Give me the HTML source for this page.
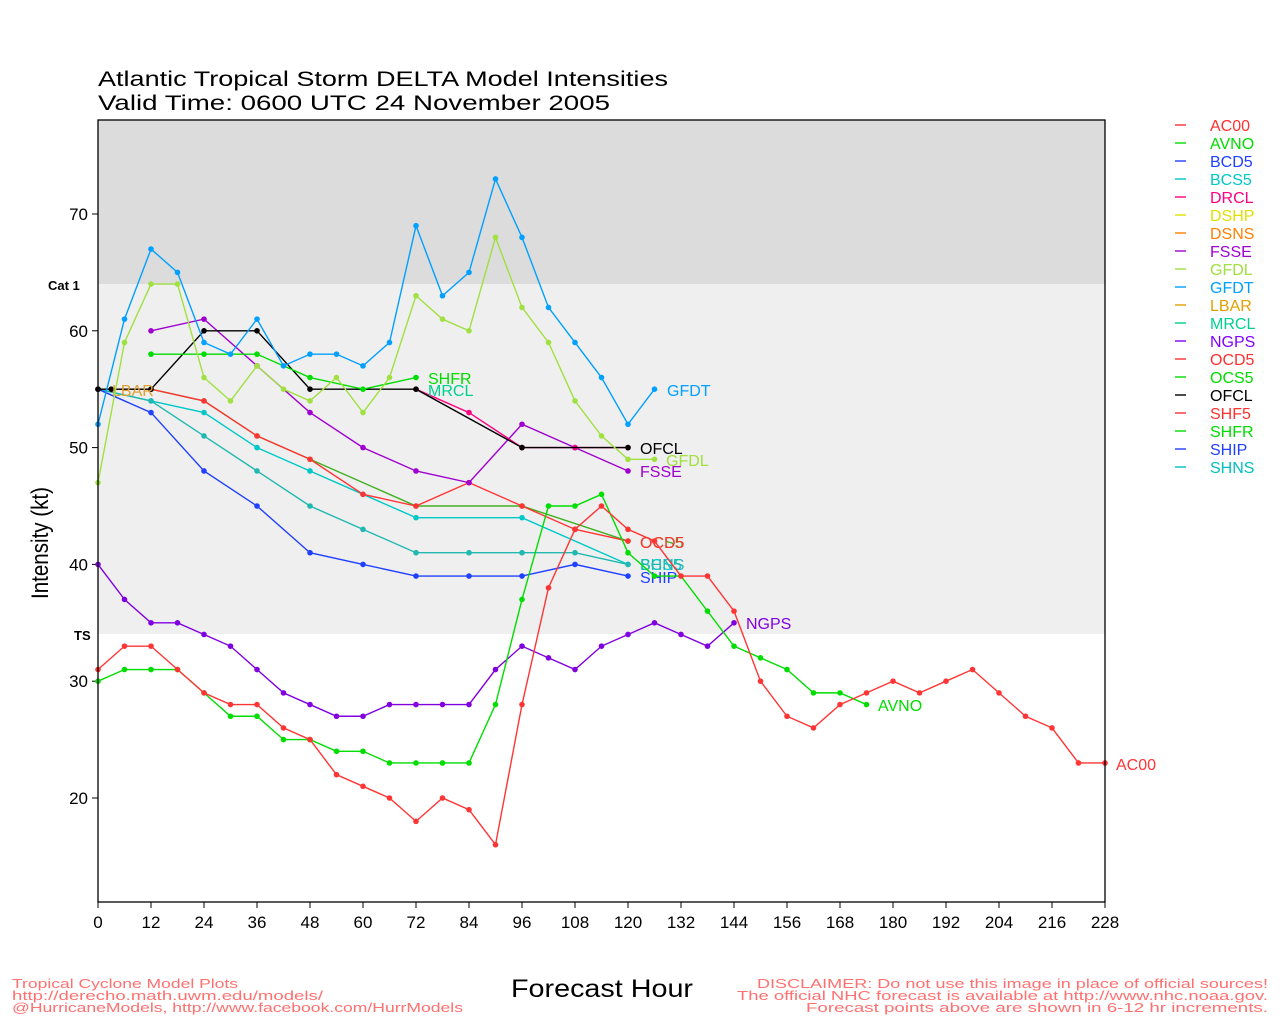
<!DOCTYPE html>
<html><head><meta charset="utf-8"><style>
html,body{margin:0;padding:0;background:#fff;}
svg{display:block;font-family:"Liberation Sans",sans-serif;}
</style></head><body>
<svg id="c" width="1280" height="1024" viewBox="0 0 1280 1024" xmlns="http://www.w3.org/2000/svg">
<rect x="98" y="120" width="1007" height="164" fill="#dcdcdc"/>
<rect x="98" y="284" width="1007" height="350" fill="#efefef"/>
<text x="98" y="86" font-size="21" fill="#000" textLength="570" lengthAdjust="spacingAndGlyphs">Atlantic Tropical Storm DELTA Model Intensities</text>
<text x="98" y="110" font-size="21" fill="#000" textLength="512" lengthAdjust="spacingAndGlyphs">Valid Time: 0600 UTC 24 November 2005</text>
<text x="48" y="290" font-size="13" font-weight="bold">Cat 1</text>
<text x="74" y="640" font-size="13" font-weight="bold">TS</text>
<text transform="translate(48,599) rotate(-90)" font-size="24" textLength="112" lengthAdjust="spacingAndGlyphs">Intensity (kt)</text>
<text x="511" y="997" font-size="25" textLength="182" lengthAdjust="spacingAndGlyphs">Forecast Hour</text>
<g font-size="13" fill="#ff7070">
<text x="12" y="988" textLength="226" lengthAdjust="spacingAndGlyphs">Tropical Cyclone Model Plots</text>
<text x="12" y="1000" textLength="311" lengthAdjust="spacingAndGlyphs">http://derecho.math.uwm.edu/models/</text>
<text x="12" y="1012" textLength="451" lengthAdjust="spacingAndGlyphs">@HurricaneModels, http://www.facebook.com/HurrModels</text>
<text x="757" y="988" textLength="511" lengthAdjust="spacingAndGlyphs">DISCLAIMER: Do not use this image in place of official sources!</text>
<text x="737" y="1000" textLength="531" lengthAdjust="spacingAndGlyphs">The official NHC forecast is available at http://www.nhc.noaa.gov.</text>
<text x="806" y="1012" textLength="462" lengthAdjust="spacingAndGlyphs">Forecast points above are shown in 6-12 hr increments.</text>
</g>
<g id="g"></g>
<rect x="98" y="120" width="1007" height="782" fill="none" stroke="#000" stroke-width="1.3"/>
</svg>
<script>
var g=document.getElementById('g'),NS='http://www.w3.org/2000/svg';
function X(h){return 98+h*1007/228}function Y(v){return 214+(70-v)*11.68}
function el(t,a,txt){var e=document.createElementNS(NS,t);for(var k in a)e.setAttribute(k,a[k]);if(txt)e.textContent=txt;g.appendChild(e);return e;}
for(var h=0;h<=228;h+=12){el('line',{x1:X(h),x2:X(h),y1:902,y2:908,stroke:'#000'});el('text',{x:X(h),y:928,'text-anchor':'middle','font-size':17},''+h);}
[20,30,40,50,60,70].forEach(function(v){el('line',{x1:92,x2:98,y1:Y(v),y2:Y(v),stroke:'#000'});el('text',{x:88,y:Y(v)+6,'text-anchor':'end','font-size':17},''+v);});
function S(c,pts,lab,lx,ly){var p=[];for(var i=0;i<pts.length;i+=2)p.push(X(pts[i])+','+Y(pts[i+1]));
el('polyline',{points:p.join(' '),fill:'none',stroke:c,'stroke-width':1.4});
for(var i=0;i<pts.length;i+=2)el('circle',{cx:X(pts[i]),cy:Y(pts[i+1]),r:2.8,fill:c});
if(lab)el('text',{x:lx,y:ly,'font-size':16,fill:c},lab);}
var red='#ff3535',grn='#00dd00';
S('#00c8c8',[0,55,12,54,24,53,36,50,48,48,60,46,72,44,96,44,120,40],'BCS5',640,570);
S('#20b8b0',[0,55,12,54,24,51,36,48,48,45,60,43,72,41,84,41,96,41,108,41,120,40],'SHNS',640,570);
S('#2040ff',[0,55,12,53,24,48,36,45,48,41,60,40,72,39,84,39,96,39,108,40,120,39],'SHIP',640,583);
S('#40b020',[0,55,12,55,24,54,36,51,48,49,72,45,96,45,120,42],'OCS5',640,548);
S(red,[0,55,12,55,24,54,36,51,48,49,60,46,72,45,84,47,96,45,108,43,120,42],'OCD5',640,548);
S('#a000d0',[12,60,24,61,36,57,48,53,60,50,72,48,84,47,96,52,108,50,120,48],'FSSE',640,477);
S('#ff0080',[72,55,84,53,96,50,108,50,120,50],null);
S('#000',[0,55,3,55,12,55,24,60,36,60,48,55,72,55,96,50,120,50],'OFCL',640,454);
S(grn,[12,58,24,58,36,58,48,56,60,55,72,56],'SHFR',428,384);
el('text',{x:428,y:396,'font-size':16,fill:'#00d090'},'MRCL');
el('text',{x:112,y:396,'font-size':16,fill:'#e0a030'},'LBAR');
S('#a0e040',[0,47,6,59,12,64,18,64,24,56,30,54,36,57,42,55,48,54,54,56,60,53,66,56,72,63,78,61,84,60,90,68,96,62,102,59,108,54,114,51,120,49,126,49],'GFDL',666,466);
S('#00a0ff',[0,52,6,61,12,67,18,65,24,59,30,58,36,61,42,57,48,58,54,58,60,57,66,59,72,69,78,63,84,65,90,73,96,68,102,62,108,59,114,56,120,52,126,55],'GFDT',667,396);
S('#8000e0',[0,40,6,37,12,35,18,35,24,34,30,33,36,31,42,29,48,28,54,27,60,27,66,28,72,28,78,28,84,28,90,31,96,33,102,32,108,31,114,33,120,34,126,35,132,34,138,33,144,35],'NGPS',746,629);
S(grn,[0,30,6,31,12,31,18,31,24,29,30,27,36,27,42,25,48,25,54,24,60,24,66,23,72,23,78,23,84,23,90,28,96,37,102,45,108,45,114,46,120,41,126,39,132,39,138,36,144,33,150,32,156,31,162,29,168,29,174,28],'AVNO',878,711);
S(red,[0,31,6,33,12,33,18,31,24,29,30,28,36,28,42,26,48,25,54,22,60,21,66,20,72,18,78,20,84,19,90,16,96,28,102,38,108,43,114,45,120,43,126,42,132,39,138,39,144,36,150,30,156,27,162,26,168,28,174,29,180,30,186,29,192,30,198,31,204,29,210,27,216,26,222,23,228,23],'AC00',1116,770);
var L=[['AC00','#ff3030'],['AVNO','#00dd00'],['BCD5','#2040ff'],['BCS5','#00c8c8'],['DRCL','#ff0080'],['DSHP','#e0e000'],['DSNS','#ff8000'],['FSSE','#a000d0'],['GFDL','#a0e040'],['GFDT','#00a0ff'],['LBAR','#e0a000'],['MRCL','#00d090'],['NGPS','#8000ff'],['OCD5','#ff3030'],['OCS5','#00dd00'],['OFCL','#000'],['SHF5','#ff3030'],['SHFR','#00dd00'],['SHIP','#2040ff'],['SHNS','#00c0c0']];
L.forEach(function(l,i){var y=125+i*18;el('line',{x1:1175,x2:1186,y1:y,y2:y,stroke:l[1],'stroke-width':1.4});el('text',{x:1210,y:y+6,'font-size':16,fill:l[1]},l[0]);});
</script>
</body></html>
